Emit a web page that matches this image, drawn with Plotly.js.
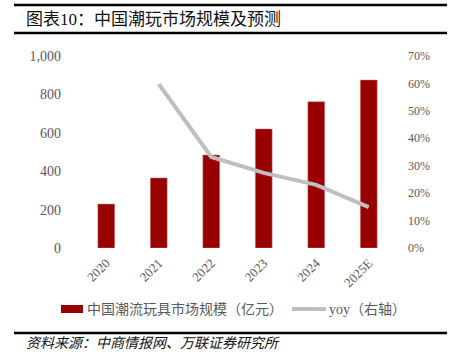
<!DOCTYPE html>
<html>
<head>
<meta charset="utf-8">
<script src="https://cdn.plot.ly/plotly-3.0.1.min.js"></script>
<style>
html,body{margin:0;padding:0;background:#fff;}
#chart{width:451px;height:364px;}
</style>
</head>
<body>
<div id="chart"></div>
<script>
const years = ["2020", "2021", "2022", "2023", "2024", "2025E"];
const marketSize = [229, 365, 484, 620, 762, 875];
const yoy = [null, 59.8, 33.2, 27.4, 23.0, 14.9];
const leftTicks = [0, 200, 400, 600, 800, 1000];
const leftTickText = ["0", "200", "400", "600", "800", "1,000"];
const rightTicks = [0, 10, 20, 30, 40, 50, 60, 70];
const rightTickText = ["0%", "10%", "20%", "30%", "40%", "50%", "60%", "70%"];

const titleText = "图表10：中国潮玩市场规模及预测";
const sourceText = "资料来源：中商情报网、万联证券研究所";
const barName = "中国潮流玩具市场规模（亿元）";
const lineName = "yoy（右轴）";

const W = 451, H = 364;
const M = {l: 80, r: 56, t: 56, b: 116};
const PW = W - M.l - M.r, PH = H - M.t - M.b;
const px = x => (x - M.l) / PW;
const py = y => (H - M.b - y) / PH;

const FONT = "Liberation Serif, 'Noto Sans CJK SC', serif";
const GREY = "#595959";
const RED = "#990000";
const LINEGREY = "#bfbfbf";

const traces = [
  {
    type: "bar", x: years, y: marketSize, name: barName,
    marker: {color: RED, line: {color: "#c98080", width: 0.5}},
    yaxis: "y"
  },
  {
    type: "scatter", mode: "lines", x: years, y: yoy, name: lineName,
    line: {color: LINEGREY, width: 4}, yaxis: "y2", connectgaps: false
  }
];

const layout = {
  width: W, height: H,
  margin: M,
  paper_bgcolor: "#fff", plot_bgcolor: "#fff",
  font: {family: FONT, color: GREY, size: 12},
  showlegend: false,
  bargap: 0.68,
  xaxis: {
    type: "category", tickangle: -45, showgrid: false, zeroline: false,
    showline: false, ticks: "", tickfont: {size: 13, color: GREY},
    ticklabelstandoff: 4
  },
  yaxis: {
    range: [0, 1000], tickvals: leftTicks, ticktext: leftTickText,
    showgrid: false, zeroline: false, showline: false, ticks: "",
    tickfont: {size: 14, color: GREY}, ticklabelstandoff: 18
  },
  yaxis2: {
    overlaying: "y", side: "right", range: [0, 70], tickvals: rightTicks, ticktext: rightTickText,
    showgrid: false, zeroline: false, showline: false, ticks: "",
    tickfont: {size: 12, color: GREY}, ticklabelstandoff: 12
  },
  shapes: [
    {type: "line", xref: "paper", yref: "paper", x0: px(14), x1: px(447), y0: py(5), y1: py(5), line: {color: "#000", width: 2.5}},
    {type: "line", xref: "paper", yref: "paper", x0: px(14), x1: px(447), y0: py(33), y1: py(33), line: {color: "#000", width: 2.5}},
    {type: "line", xref: "paper", yref: "paper", x0: px(14), x1: px(447), y0: py(333), y1: py(333), line: {color: "#000", width: 2.5}},
    // legend swatches
    {type: "rect", xref: "paper", yref: "paper", x0: px(61), x1: px(83), y0: py(305), y1: py(313), fillcolor: RED, line: {width: 0}},
    {type: "line", xref: "paper", yref: "paper", x0: px(292), x1: px(326), y0: py(309), y1: py(309), line: {color: LINEGREY, width: 4}}
  ],
  annotations: [
    {text: titleText, xref: "paper", yref: "paper", x: px(24), y: py(19), xanchor: "left", yanchor: "middle",
     showarrow: false, font: {size: 17, color: "#111", family: FONT}},
    {text: "<i>" + sourceText + "</i>", xref: "paper", yref: "paper", x: px(24), y: py(343), xanchor: "left", yanchor: "middle",
     showarrow: false, font: {size: 14, color: "#111", family: FONT}},
    {text: barName, xref: "paper", yref: "paper", x: px(85), y: py(309), xanchor: "left", yanchor: "middle",
     showarrow: false, font: {size: 14, color: GREY, family: FONT}},
    {text: lineName, xref: "paper", yref: "paper", x: px(327), y: py(309), xanchor: "left", yanchor: "middle",
     showarrow: false, font: {size: 14, color: GREY, family: FONT}}
  ]
};

Plotly.newPlot("chart", traces, layout, {displayModeBar: false, staticPlot: true});
</script>
</body>
</html>
